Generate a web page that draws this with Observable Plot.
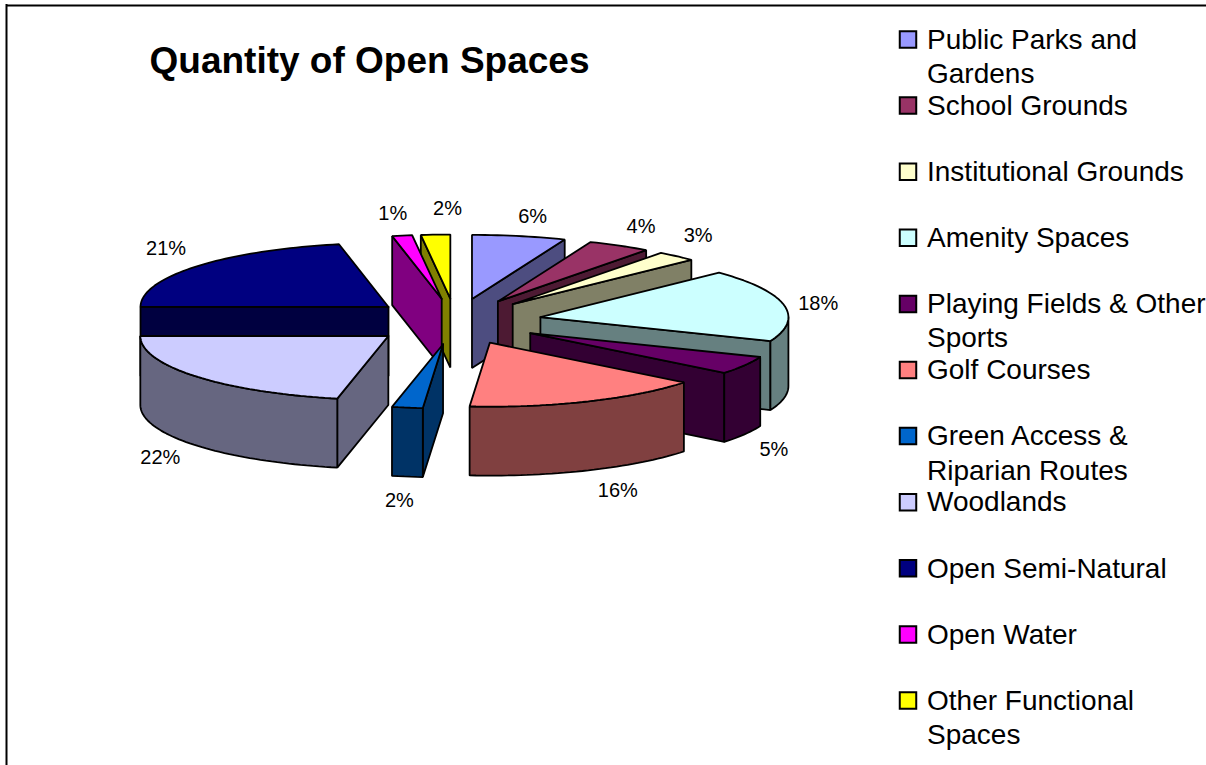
<!DOCTYPE html>
<html>
<head>
<meta charset="utf-8">
<script src="https://cdn.jsdelivr.net/npm/d3@7"></script>
<script src="https://cdn.jsdelivr.net/npm/@observablehq/plot@0.6"></script>
<style>
html,body{margin:0;padding:0;background:#fff;overflow:hidden}
svg{display:block}
</style>
</head>
<body>
<div id="chart"></div>
<script>
const titleText = "Quantity of Open Spaces";
const categories = ["Public Parks and\nGardens","School Grounds","Institutional Grounds","Amenity Spaces","Playing Fields & Other\nSports","Golf Courses","Green Access &\nRiparian Routes","Woodlands","Open Semi-Natural","Open Water","Other Functional\nSpaces"];
const shares = [6.1,4.1,2.6,18.3,4.6,15.6,2.0,21.7,21.8,1.3,1.9];
const pctLabels = ["6%","4%","3%","18%","5%","16%","2%","22%","21%","1%","2%"];
const topColors = ["#9999FF","#993366","#FFFFCC","#CCFFFF","#660066","#FF8080","#0066CC","#CCCCFF","#000080","#FF00FF","#FFFF00"];
const sideColors = ["#4D4D80","#4D1A33","#808066","#668080","#330033","#804040","#003366","#666680","#000040","#800080","#808000"];

// pie geometry
const cx = 455, cy = 321, rx = 248, ry = 64, depth = 69, explodeX = 86.5, explodeY = 23;
// small per-label placement nudges relative to the computed label anchor
const labelNudgeX = [7,5,-1,1,0,16,-3,-9,-4,-4,14];
const labelNudgeY = [2,0,-4,3,4,0,2,-2,-4,0,-4];
const rad = d => d * Math.PI / 180;
const total = d3.sum(shares);
let acc = 0;
const slices = shares.map((s, i) => {
  const a0 = acc / total * 360; acc += s;
  const a1 = acc / total * 360, mid = (a0 + a1) / 2;
  const ax = cx + explodeX * Math.sin(rad(mid));
  const ay = cy - explodeY * Math.cos(rad(mid));
  return {i, a0, a1, mid, ax, ay};
});
const rim = (s, a, h = 0) => ({x: s.ax + rx * Math.sin(rad(a)), y: s.ay - ry * Math.cos(rad(a)) + h});
const arc = (s, a0, a1, h = 0) => {
  const n = Math.max(2, Math.ceil((a1 - a0) / 1.5));
  return d3.range(n + 1).map(k => rim(s, a0 + (a1 - a0) * k / n, h));
};

const faces = [];
const addFace = (id, color, pts) => {
  [...pts, pts[0]].forEach(p => faces.push({id, color, x: p.x, y: p.y}));
};
[...slices].sort((a, b) => a.ay - b.ay).forEach(s => {
  const apex = {x: s.ax, y: s.ay}, apexLow = {x: s.ax, y: s.ay + depth};
  const side = sideColors[s.i], top = topColors[s.i];
  if (Math.sin(rad(s.a0)) < -1e-6) addFace(`w0-${s.i}`, side, [apex, rim(s, s.a0), rim(s, s.a0, depth), apexLow]);
  if (Math.sin(rad(s.a1)) > 1e-6) addFace(`w1-${s.i}`, side, [apex, rim(s, s.a1), rim(s, s.a1, depth), apexLow]);
  const f0 = Math.max(s.a0, 90), f1 = Math.min(s.a1, 270);
  if (f1 > f0) addFace(`o-${s.i}`, side, [...arc(s, f0, f1), ...arc(s, f0, f1, depth).reverse()]);
  addFace(`t-${s.i}`, top, [apex, ...arc(s, s.a0, s.a1)]);
});

const labels = slices.map(s => {
  const sn = Math.sin(rad(s.mid)), cs = Math.cos(rad(s.mid));
  const p = rim(s, s.mid, cs < 0 ? depth : 0);
  return {x: p.x + 34 * sn + labelNudgeX[s.i], y: p.y - 22 * cs + labelNudgeY[s.i], text: pctLabels[s.i]};
});

const legendX = 907.5, legendTextX = 926.5, legendY0 = 39, legendStep = 66.1;
const legend = categories.map((c, i) => ({c, color: topColors[i], y: legendY0 + i * legendStep}));

const font = "'Liberation Sans', Arial, sans-serif";
const plot = Plot.plot({
  width: 1206, height: 765,
  margin: 0,
  style: {fontFamily: font, background: "#fff"},
  x: {type: "linear", domain: [0, 1206], range: [0, 1206], axis: null},
  y: {type: "linear", domain: [0, 765], range: [0, 765], axis: null},
  marks: [
    Plot.ruleY([5], {x1: 6, x2: 1206, stroke: "#000", strokeWidth: 2}),
    Plot.ruleX([6], {y1: 4, y2: 765, stroke: "#000", strokeWidth: 2}),
    Plot.line(faces, {
      x: "x", y: "y", z: "id",
      fill: {value: d => d.color, scale: null},
      stroke: "#000", strokeWidth: 1.8, strokeLinejoin: "miter", curve: "linear"
    }),
    Plot.text(labels, {x: "x", y: "y", text: "text", fontSize: 20, fill: "#000", textAnchor: "middle", lineAnchor: "middle"}),
    Plot.text([titleText], {x: [149], y: [61], text: d => d, fontSize: 37, fontWeight: "bold", fill: "#000", textAnchor: "start", lineAnchor: "middle"}),
    Plot.dot(legend, {x: () => legendX, y: "y", r: 9.3, symbol: "square", fill: {value: d => d.color, scale: null}, stroke: "#000", strokeWidth: 2}),
    Plot.text(legend, {x: () => legendTextX, y: d => d.y - 15, text: "c", fontSize: 28, lineHeight: 1.22, fill: "#000", textAnchor: "start", lineAnchor: "top"})
  ]
});
document.getElementById("chart").append(plot);
</script>
</body>
</html>
